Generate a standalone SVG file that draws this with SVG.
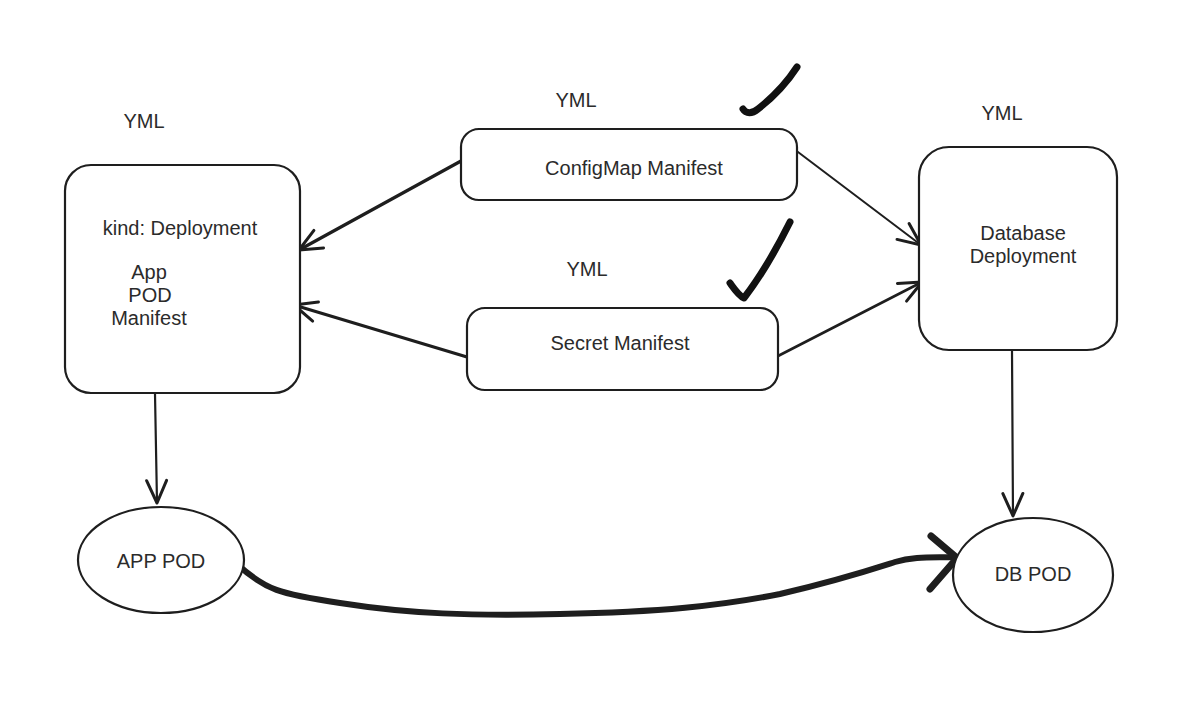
<svg xmlns="http://www.w3.org/2000/svg" width="1188" height="712" viewBox="0 0 1188 712">
<style>
.box{fill:#fff;stroke:#1e1e1e;stroke-width:2.2}
.t{font-family:"Liberation Sans",Arial,sans-serif;font-size:20px;fill:#2b2b2b;text-anchor:middle}
.c{fill:none;stroke:#1e1e1e;stroke-linecap:round;stroke-linejoin:round}
.chk{fill:none;stroke:#111;stroke-width:7;stroke-linecap:round;stroke-linejoin:round}
</style>
<defs>
<marker id="ah" markerUnits="userSpaceOnUse" markerWidth="30" markerHeight="30" refX="20" refY="10" viewBox="0 0 24 20" orient="auto">
<path d="M2,2 L20,10 L2,18" fill="none" stroke="#1e1e1e" stroke-width="2.4" stroke-linecap="round" stroke-linejoin="round"/>
</marker>
</defs>
<rect width="1188" height="712" fill="#fff"/>
<g id="connectors">
<path class="c" stroke-width="3.2" d="M461,161 L299,250" marker-end="url(#ah)"/>
<path class="c" stroke-width="3.2" d="M467,357 L294,305" marker-end="url(#ah)"/>
<path class="c" stroke-width="2" d="M794,149 L921,245" marker-end="url(#ah)"/>
<path class="c" stroke-width="2.6" d="M778,356 L922,282" marker-end="url(#ah)"/>
<path class="c" stroke-width="2.2" d="M155,394 L157,503" marker-end="url(#ah)"/>
<path class="c" stroke-width="2.2" d="M1012,351 L1013,516" marker-end="url(#ah)"/>
<path class="c" stroke-width="6" d="M237,564 C265,590 280,594 340,603 C410,614 470,616 560,614 C660,612 720,606 780,594 C840,580 870,570 895,562 C915,556 935,558 958,557"/>
<path class="c" stroke-width="7" d="M931,536 L957,558 L930,589"/>
</g>
<g id="app-deployment">
<text class="t" x="144" y="128">YML</text>
<rect class="box" x="65" y="165" width="235" height="228" rx="26"/>
<text class="t" x="180" y="235">kind: Deployment</text>
<text class="t" x="149" y="279">App</text>
<text class="t" x="150" y="302">POD</text>
<text class="t" x="149" y="325">Manifest</text>
</g>
<g id="configmap">
<text class="t" x="576" y="107">YML</text>
<rect class="box" x="461" y="129" width="336" height="71" rx="18"/>
<text class="t" x="634" y="175">ConfigMap Manifest</text>
<path class="chk" d="M743,109 C746,114 752,114 758,109 C772,98 786,84 797,67"/>
</g>
<g id="secret">
<text class="t" x="587" y="276">YML</text>
<rect class="box" x="467" y="308" width="311" height="82" rx="18"/>
<text class="t" x="620" y="350">Secret Manifest</text>
<path class="chk" d="M730,283 C735,290 739,296 744,298 C758,280 776,250 790,222"/>
</g>
<g id="db-deployment">
<text class="t" x="1002" y="120">YML</text>
<rect class="box" x="919" y="147" width="198" height="203" rx="30"/>
<text class="t" x="1023" y="240">Database</text>
<text class="t" x="1023" y="263">Deployment</text>
</g>
<g id="app-pod">
<ellipse class="box" cx="161" cy="560" rx="83" ry="53"/>
<text class="t" x="161" y="568">APP POD</text>
</g>
<g id="db-pod">
<ellipse class="box" cx="1033" cy="575" rx="80" ry="57"/>
<text class="t" x="1033" y="581">DB POD</text>
</g>
</svg>
